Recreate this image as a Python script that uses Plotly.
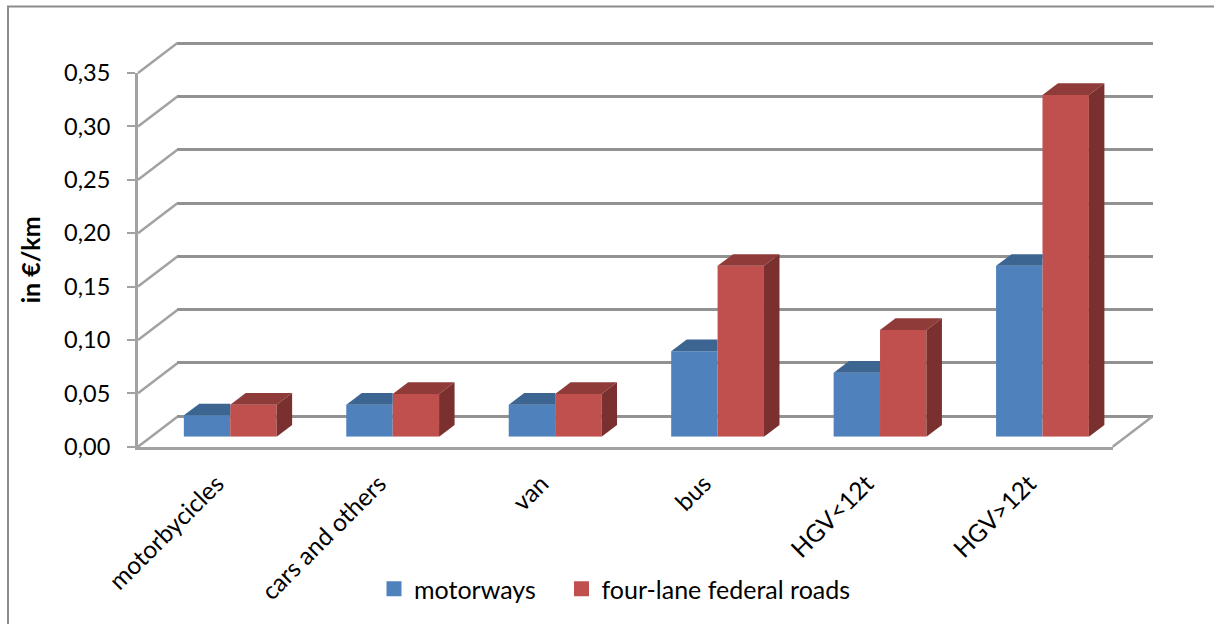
import plotly.graph_objects as go

categories = ["motorbycicles", "cars and others", "van", "bus", "HGV<12t", "HGV>12t"]
motorways = [0.02, 0.03, 0.03, 0.08, 0.06, 0.16]
federal_roads = [0.03, 0.04, 0.04, 0.16, 0.10, 0.32]
series_names = ["motorways", "four-lane federal roads"]
value_ticks = [0.0, 0.05, 0.10, 0.15, 0.20, 0.25, 0.30, 0.35]

BLUE, BLUE_TOP = "#4F81BD", "#3D6592"
RED, RED_TOP, RED_SIDE = "#C0504D", "#8F3B39", "#7A302E"
GRID = "#929292"
EDGE = "#A2A2A2"
FONT = "Lato"
W, H = 1214, 624


def xdom(a, b):
    return [a / W, b / W]


def ydom(bottom, top):
    return [1 - bottom / H, 1 - top / H]


# Geometry of the oblique projection, in pixels of the plot
FRONT_L, FRONT_R, FRONT_B, FRONT_T = 138, 1112.7, 446.7, 73
SLOT = (FRONT_R - FRONT_L) / 6
UNIT = (FRONT_B - FRONT_T) / 0.35
WALL_B, WALL_T = 416, 43.5
WALL_UNIT = (WALL_B - WALL_T) / 0.35
WALL_DX, WALL_DY = 39.4 / SLOT, 30 / UNIT
BAR_DX, BAR_DY = 15.5 / SLOT, 11.7 / UNIT
BAR_W = 46.4 / SLOT
LABEL_SHIFT = 2.5 / SLOT

fig = go.Figure()

# Back wall: only its gridlines are visible
fig.add_trace(go.Scatter(x=[None], y=[None], xaxis="x", yaxis="y", showlegend=False, hoverinfo="skip"))

# Side wall and floor edges receding from the front plane
wall_x, wall_y = [], []
for t in value_ticks:
    wall_x += [-0.5, -0.5 + WALL_DX, None]
    wall_y += [t, t + WALL_DY, None]
wall_x += [5.5, 5.5 + WALL_DX]
wall_y += [0, WALL_DY]
fig.add_trace(go.Scatter(x=wall_x, y=wall_y, mode="lines", xaxis="x2", yaxis="y2",
                         line=dict(color=EDGE, width=2.5), showlegend=False, hoverinfo="skip"))

# The front plane carries the tick labels and axis lines
fig.add_trace(go.Scatter(x=[None], y=[None], xaxis="x3", yaxis="y3", showlegend=False, hoverinfo="skip"))

# Front faces of the bars
fig.add_trace(go.Bar(x=list(range(6)), y=motorways, name=series_names[0], marker=dict(color=BLUE, line_width=0),
                     xaxis="x4", yaxis="y4", showlegend=False))
fig.add_trace(go.Bar(x=list(range(6)), y=federal_roads, name=series_names[1], marker=dict(color=RED, line_width=0),
                     xaxis="x4", yaxis="y4", showlegend=False))


def face(xs, ys, color):
    fig.add_trace(go.Scatter(x=xs, y=ys, mode="lines", fill="toself", fillcolor=color, line=dict(width=0),
                             xaxis="x4", yaxis="y4", showlegend=False, hoverinfo="skip"))


# Top and side faces follow from each bar's value
for i, (a, b) in enumerate(zip(motorways, federal_roads)):
    face([i - BAR_W, i - BAR_W + BAR_DX, i, i], [a, a + BAR_DY, a + BAR_DY, a], BLUE_TOP)
    face([i, i + BAR_DX, i + BAR_W + BAR_DX, i + BAR_W], [b, b + BAR_DY, b + BAR_DY, b], RED_TOP)
    face([i + BAR_W, i + BAR_W + BAR_DX, i + BAR_W + BAR_DX, i + BAR_W], [0, BAR_DY, b + BAR_DY, b], RED_SIDE)

# Legend swatches, one legend per series so each entry can be placed on its own
for name, color, legend_id in zip(series_names, [BLUE, RED], ["legend", "legend2"]):
    fig.add_trace(go.Scatter(x=[None], y=[None], mode="markers", name=name, xaxis="x4", yaxis="y4",
                             legend=legend_id, marker=dict(symbol="square", size=15, color=color)))

legend_style = dict(orientation="h", xanchor="left", y=1 - 589 / H, yanchor="middle",
                    font=dict(size=25), bgcolor="rgba(0,0,0,0)", itemclick=False, itemdoubleclick=False)

fig.update_layout(
    width=W, height=H, autosize=False,
    margin=dict(l=0, r=0, t=0, b=0, autoexpand=False),
    paper_bgcolor="white", plot_bgcolor="rgba(0,0,0,0)",
    separators=", ",
    barmode="group", bargap=1 - 2 * BAR_W, bargroupgap=0,
    font=dict(family=FONT, color="#000000"),
    # Back wall, with a little spare range at each end so the outer gridlines are kept
    xaxis=dict(domain=xdom(177, 1152.5), range=[0, 1], visible=False, anchor="y"),
    yaxis=dict(domain=ydom(WALL_B + 0.02 * WALL_UNIT, WALL_T - 0.02 * WALL_UNIT), range=[-0.02, 0.37],
               tickmode="array", tickvals=value_ticks, anchor="x", showgrid=True,
               gridcolor=GRID, gridwidth=2.5, showticklabels=False, zeroline=False, showline=False, ticks=""),
    # Enlarged front plane that leaves room for the receding edges
    xaxis2=dict(domain=xdom(FRONT_L - 0.5 * SLOT, FRONT_R + 0.5 * SLOT), range=[-1, 6], visible=False, anchor="y2"),
    yaxis2=dict(domain=ydom(FRONT_B + 0.05 * UNIT, FRONT_T - 0.05 * UNIT), range=[-0.05, 0.40], visible=False,
                anchor="x2"),
    xaxis3=dict(domain=xdom(FRONT_L, FRONT_R), range=[-0.5, 5.5], anchor="y3", showgrid=False, zeroline=False,
                tickmode="array", tickvals=[i - LABEL_SHIFT for i in range(6)], ticktext=categories, tickangle=-45,
                tickfont=dict(size=24.5), ticks="", showline=True, linecolor=EDGE, linewidth=3,
                ticklabelstandoff=10),
    yaxis3=dict(domain=ydom(FRONT_B, FRONT_T), range=[0, 0.35], tickmode="array", tickvals=value_ticks,
                tickformat=".2f", anchor="x3",
                showgrid=False, zeroline=False, showline=True, linecolor=EDGE, linewidth=3,
                ticks="outside", ticklen=8, tickwidth=2, tickcolor=EDGE, tickfont=dict(size=23.5),
                ticklabelstandoff=12,
                title=dict(text="<b>in €/km</b>", font=dict(size=25), standoff=17)),
    # Plane of the bars, set back from the front plane
    xaxis4=dict(domain=xdom(FRONT_L + 11, FRONT_R + 11), range=[-0.5, 5.5], visible=False, anchor="y4"),
    yaxis4=dict(domain=ydom(FRONT_B - 10, FRONT_T - 10), range=[0, 0.35], visible=False, anchor="x4"),
    legend=dict(x=374 / W, **legend_style),
    legend2=dict(x=561.5 / W, **legend_style),
    shapes=[dict(type="rect", xref="paper", yref="paper", x0=8 / W, x1=1.01, y0=-0.01, y1=1 - 6.5 / H,
                 line=dict(color="#8C8C8C", width=2), layer="below")],
)

fig.write_html("out.html")
